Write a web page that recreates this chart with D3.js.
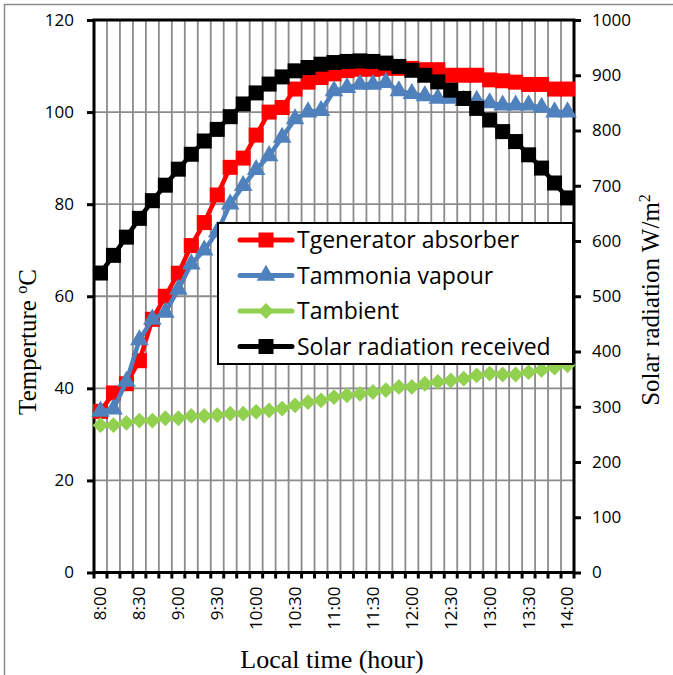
<!DOCTYPE html>
<html>
<head>
<meta charset="utf-8">
<script src="https://cdn.jsdelivr.net/npm/d3@7"></script>
<style>
body { margin: 0; background: #fff; }
</style>
</head>
<body>
<script>
// categories, 10 minute steps
var times = ["8:00","8:10","8:20","8:30","8:40","8:50","9:00","9:10","9:20","9:30","9:40","9:50",
  "10:00","10:10","10:20","10:30","10:40","10:50","11:00","11:10","11:20","11:30","11:40","11:50",
  "12:00","12:10","12:20","12:30","12:40","12:50","13:00","13:10","13:20","13:30","13:40","13:50","14:00"];

var tGenerator = [35,39,41,46,55,60,65,71,76,82,88,90,95,100,101,105,106.5,107.5,108.3,109,109.3,109.3,
  109.5,109.5,109.5,109.2,109.2,108,108,108,107,106.8,106.5,106,106,105,105];
var tAmmonia = [35,35.5,41.5,50.5,55,56.5,61.5,67,70,74,80,84,87.5,90.5,94.5,98.5,100,100.3,104.6,105.3,106,106,
  106.4,104.6,104,103.5,103,103,102.5,102.5,102,101.5,101.5,101.5,101,100,100];
var tAmbient = [32,32,32.5,33,33,33.5,33.5,34,34,34.2,34.5,34.5,34.9,35.2,35.6,36.3,37,37.4,38.1,38.5,38.8,39.2,
  39.6,40.3,40.3,41,41.4,41.7,42.1,42.8,43.2,43,43,43.5,44,44.5,45];
var solar = [542,574,607,641,673,701,730,757,781,802,825,848,868,884,897,908,914,920,923,925,926,925,
  922,916,909,900,888,873,858,840,819,798,780,756,732,705,678];

var tempTicks = [0,20,40,60,80,100,120];
var solarTicks = [0,100,200,300,400,500,600,700,800,900,1000];
var seriesNames = ["Tgenerator absorber","Tammonia vapour","Tambient","Solar radiation received"];

var W = 673, H = 675;
var pL = 94, pR = 574, pT = 20, pB = 572.5;

var svg = d3.select("body").append("svg")
    .attr("width", W)
    .attr("height", H)
    .style("font-family", "'Open Sans', sans-serif");

// chart border
svg.append("rect")
    .attr("x", 4.5).attr("y", 4.5)
    .attr("width", 700).attr("height", 700)
    .attr("fill", "none")
    .attr("stroke", "#8c8c8c")
    .attr("stroke-width", 1.5);

var x = d3.scaleBand().domain(times).range([pL, pR]).padding(0);
var cx = function(d, i) { return x(times[i]) + x.bandwidth() / 2; };
var yT = d3.scaleLinear().domain([0, 120]).range([pB, pT]);
var yS = d3.scaleLinear().domain([0, 1000]).range([pB, pT]);

// gridlines
var grid = svg.append("g").attr("stroke", "#8c8c8c").attr("stroke-width", 1.8);
grid.selectAll(".vg")
    .data(d3.range(1, times.length))
    .enter().append("line")
    .attr("x1", function(i) { return pL + i * x.step(); })
    .attr("x2", function(i) { return pL + i * x.step(); })
    .attr("y1", pT).attr("y2", pB);
grid.selectAll(".hg")
    .data(tempTicks.slice(1, -1))
    .enter().append("line")
    .attr("x1", pL).attr("x2", pR)
    .attr("y1", function(d) { return yT(d); })
    .attr("y2", function(d) { return yT(d); });

// bottom tick marks at category boundaries
svg.append("g").attr("stroke", "#000").attr("stroke-width", 3)
    .selectAll("line")
    .data(d3.range(0, times.length + 1))
    .enter().append("line")
    .attr("x1", function(i) { return pL + i * x.step(); })
    .attr("x2", function(i) { return pL + i * x.step(); })
    .attr("y1", pB).attr("y2", pB + 6);

// left axis
var gl = svg.append("g")
    .attr("transform", "translate(" + pL + ",0)")
    .call(d3.axisLeft(yT).tickValues(tempTicks).tickSize(7).tickPadding(13));
gl.select(".domain").remove();
gl.selectAll("line").attr("stroke-width", 3);
gl.selectAll("text").style("font-size", "17px").style("font-family", "'Open Sans', sans-serif").attr("fill", "#000");

// right axis
var gr = svg.append("g")
    .attr("transform", "translate(" + pR + ",0)")
    .call(d3.axisRight(yS).tickValues(solarTicks).tickFormat(d3.format("d")).tickSize(7).tickPadding(11));
gr.select(".domain").remove();
gr.selectAll("line").attr("stroke-width", 3);
gr.selectAll("text").style("font-size", "17px").style("font-family", "'Open Sans', sans-serif").attr("fill", "#000");

// x labels
var gx = svg.append("g")
    .attr("transform", "translate(0," + pB + ")")
    .call(d3.axisBottom(x).tickValues(times.filter(function(d, i) { return i % 3 == 0; })).tickSize(0));
gx.select(".domain").remove();
gx.selectAll("text")
    .style("font-size", "17px")
    .style("font-family", "'Open Sans', sans-serif")
    .attr("fill", "#000")
    .attr("text-anchor", "end")
    .attr("transform", "translate(0,14) rotate(-90)")
    .attr("x", 0).attr("y", 0).attr("dy", "0.35em");

// plot frame
svg.append("rect")
    .attr("x", pL).attr("y", pT)
    .attr("width", pR - pL).attr("height", pB - pT)
    .attr("fill", "none").attr("stroke", "#000").attr("stroke-width", 3);

// series
var series = [
  {name: seriesNames[0], values: tGenerator, y: yT, color: "#ff0000", shape: "square"},
  {name: seriesNames[1], values: tAmmonia, y: yT, color: "#4f81bd", shape: "triangle"},
  {name: seriesNames[2], values: tAmbient, y: yT, color: "#92d050", shape: "diamond"},
  {name: seriesNames[3], values: solar, y: yS, color: "#000000", shape: "square"}
];

function markerPath(shape) {
  if (shape == "triangle") return d3.symbol().type(d3.symbolTriangle).size(150)();
  return d3.symbol().type(d3.symbolSquare).size(shape == "diamond" ? 125 : 225)();
}
function markerRot(shape) { return shape == "diamond" ? " rotate(45)" : ""; }

series.forEach(function(s) {
  var line = d3.line()
      .x(function(d, i) { return cx(d, i); })
      .y(function(d) { return s.y(d); });
  var g = svg.append("g");
  g.append("path")
      .datum(s.values)
      .attr("d", line)
      .attr("fill", "none")
      .attr("stroke", s.color)
      .attr("stroke-width", 4.5)
      .attr("stroke-linejoin", "round");
  g.selectAll("path.m")
      .data(s.values)
      .enter().append("path")
      .attr("class", "m")
      .attr("d", markerPath(s.shape))
      .attr("fill", s.color)
      .attr("transform", function(d, i) {
        return "translate(" + cx(d, i) + "," + s.y(d) + ")" + markerRot(s.shape);
      });
});

// legend
var lg = svg.append("g");
lg.append("rect")
    .attr("x", 218).attr("y", 223)
    .attr("width", 355).attr("height", 141)
    .attr("fill", "#fff").attr("stroke", "#000").attr("stroke-width", 2);
series.forEach(function(s, i) {
  var ly = 240 + i * 35.5;
  lg.append("line")
      .attr("x1", 240).attr("x2", 292)
      .attr("y1", ly).attr("y2", ly)
      .attr("stroke", s.color).attr("stroke-width", 5).attr("stroke-linecap", "round");
  lg.append("path")
      .attr("d", markerPath(s.shape))
      .attr("fill", s.color)
      .attr("transform", "translate(266," + ly + ")" + markerRot(s.shape));
  lg.append("text")
      .attr("x", 297).attr("y", ly)
      .attr("dy", "0.36em")
      .style("font-size", "23px")
      .text(s.name);
});

// axis titles
svg.append("text")
    .attr("transform", "translate(332,668)")
    .attr("text-anchor", "middle")
    .style("font-family", "'Liberation Serif', 'Times New Roman', serif")
    .style("font-size", "26px")
    .text("Local time (hour)");

var tl = svg.append("text")
    .attr("transform", "translate(36,342) rotate(-90)")
    .attr("text-anchor", "middle")
    .style("font-family", "'Liberation Serif', 'Times New Roman', serif")
    .style("font-size", "25px");
tl.append("tspan").text("Temperture ");
tl.append("tspan").attr("dy", -9).style("font-size", "16px").text("o");
tl.append("tspan").attr("dy", 9).text("C");

var tr = svg.append("text")
    .attr("transform", "translate(659,300) rotate(-90)")
    .attr("text-anchor", "middle")
    .style("font-family", "'Liberation Serif', 'Times New Roman', serif")
    .style("font-size", "25px");
tr.append("tspan").text("Solar radiation W/m");
tr.append("tspan").attr("dy", -9).style("font-size", "16px").text("2");
</script>
</body>
</html>
